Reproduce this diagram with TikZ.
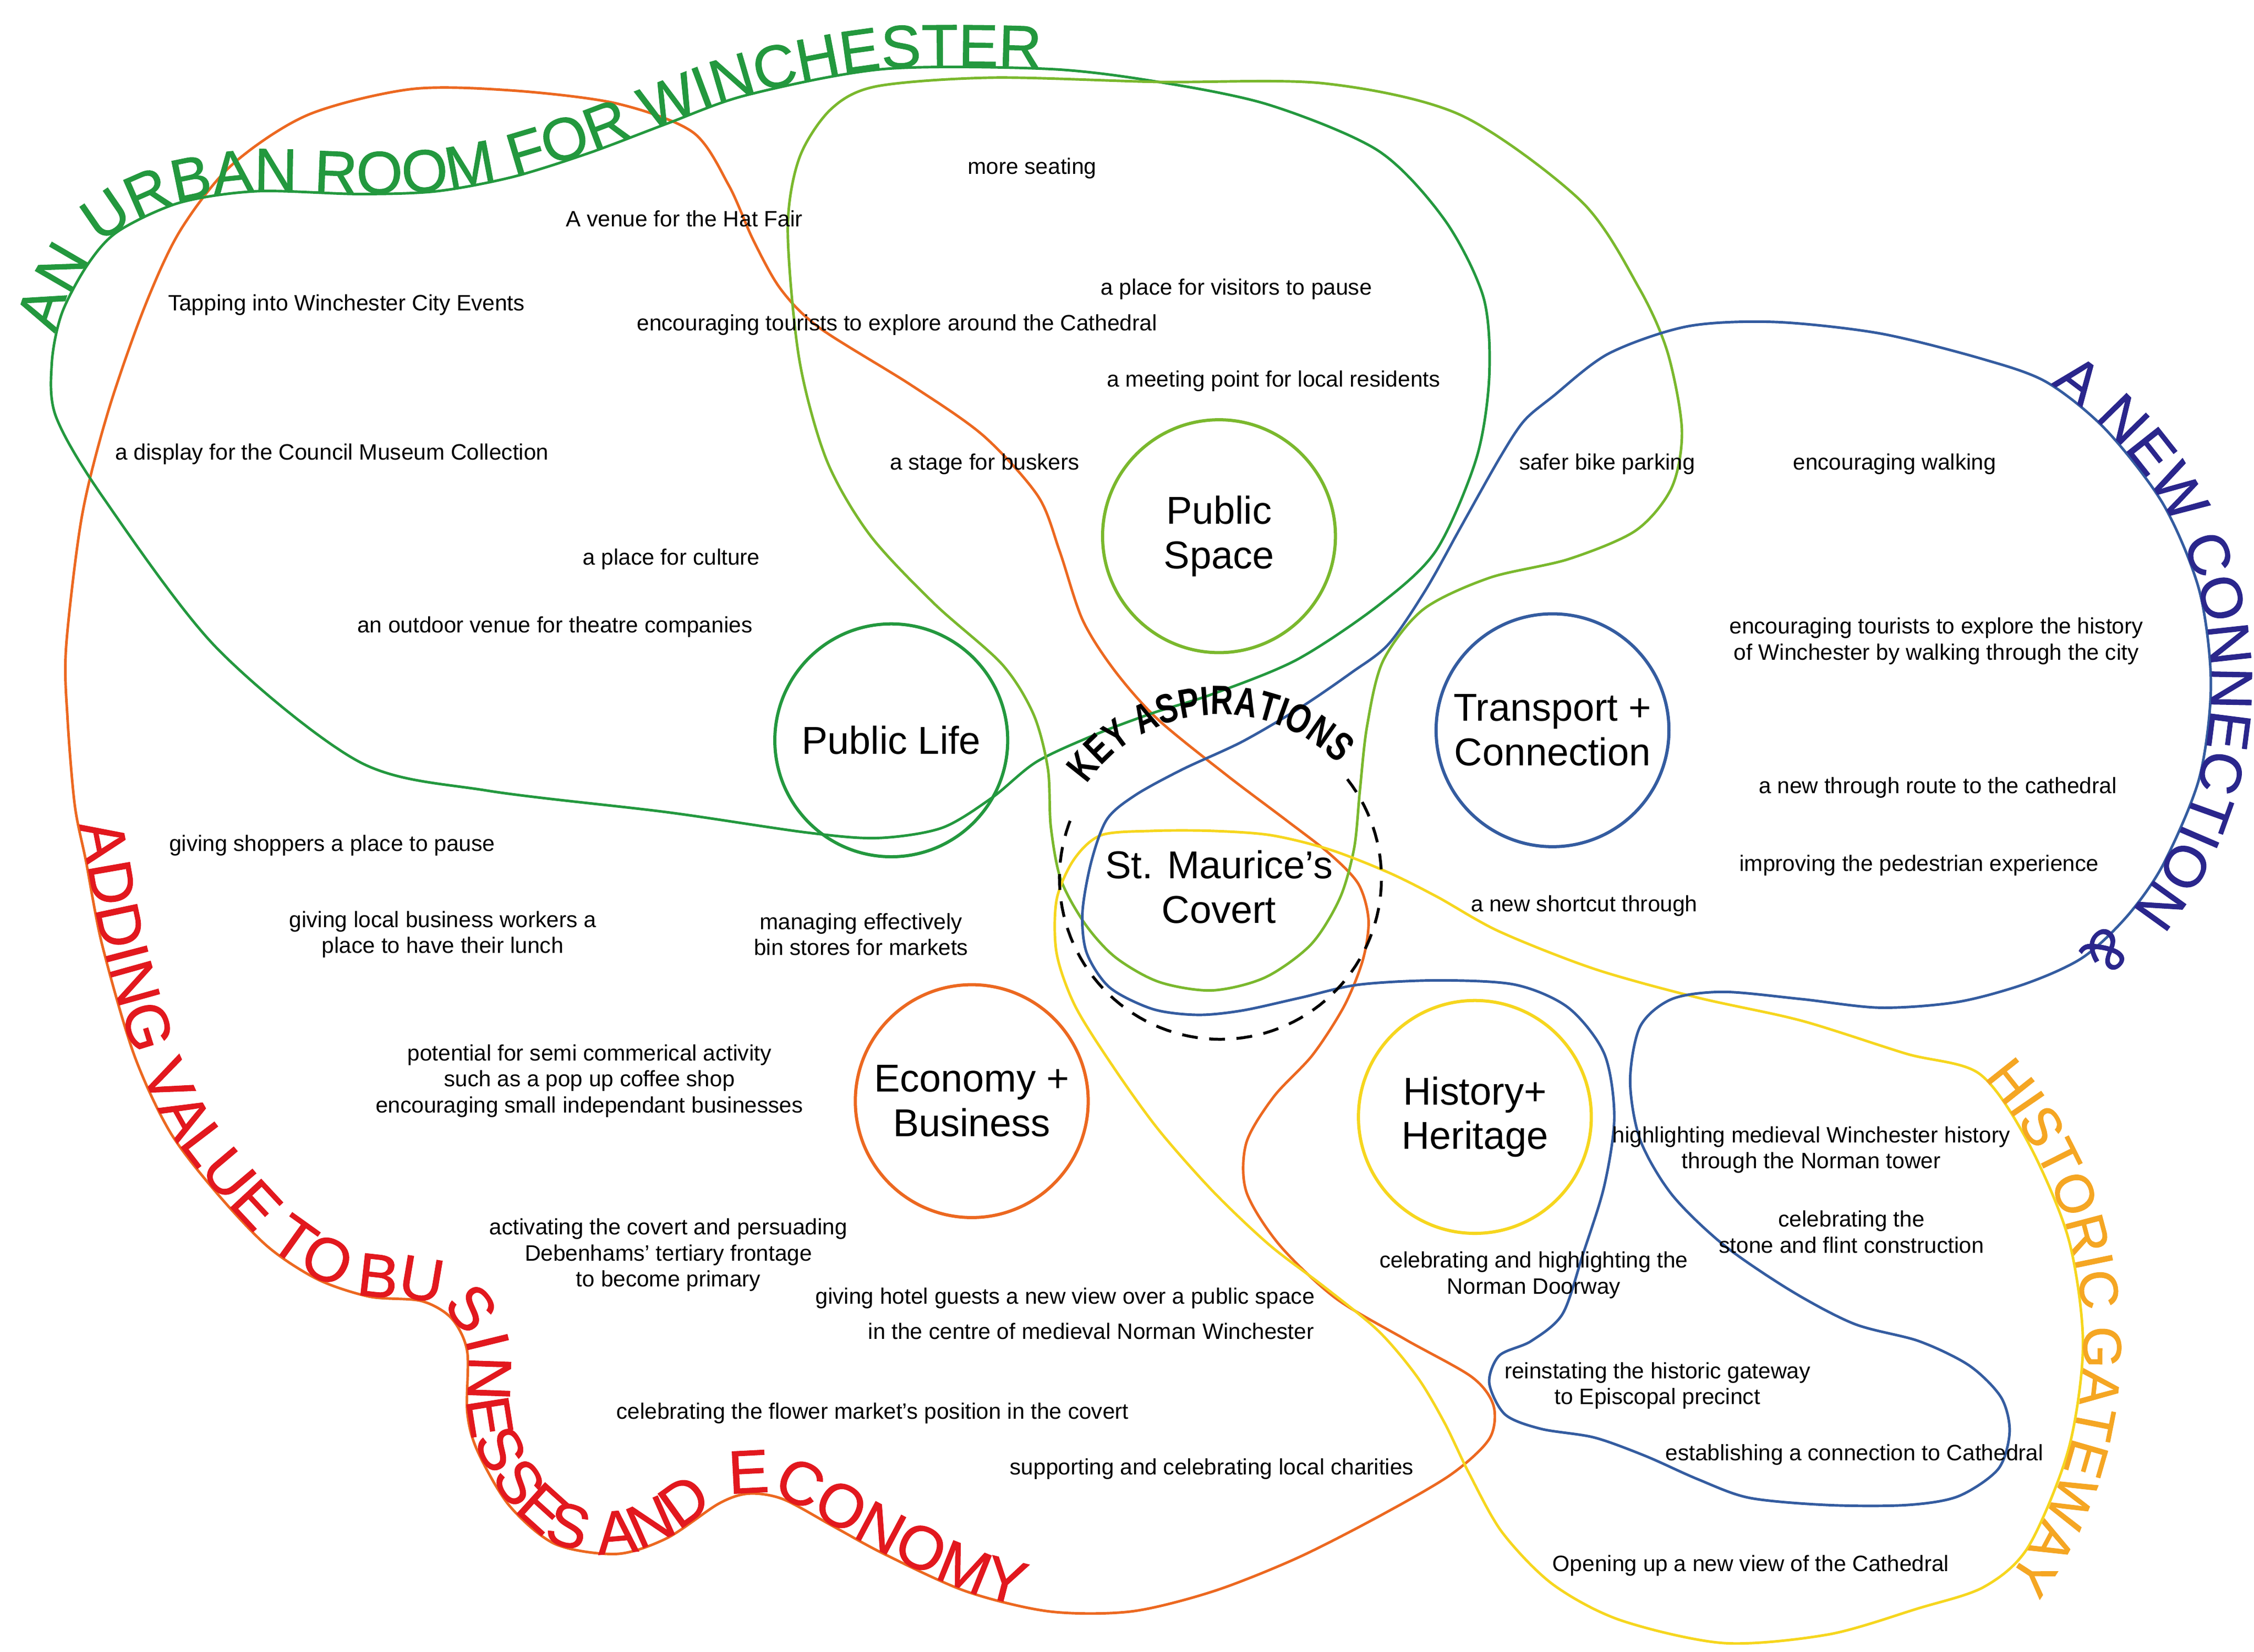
\documentclass[tikz,border=0pt]{standalone}
\usepackage{fontspec}
\setmainfont{Liberation Sans}
\newfontfamily\titlefont{Liberation Sans}[FakeBold=1]
\newfontfamily\keyfont{Liberation Sans}[FakeStretch=0.76]
\usetikzlibrary{decorations.text}
\definecolor{dkgreen}{RGB}{35,152,62}
\definecolor{ltgreen}{RGB}{122,184,45}
\definecolor{orangel}{RGB}{236,104,32}
\definecolor{redt}{RGB}{226,24,30}
\definecolor{bluel}{RGB}{52,92,160}
\definecolor{navyt}{RGB}{42,38,140}
\definecolor{yellowl}{RGB}{246,214,30}
\definecolor{oranget}{RGB}{245,166,35}
\newcommand\wsmall{\fontsize{15.5}{18}\selectfont}
\newcommand\wbig{\fontsize{27}{31}\selectfont}
\begin{document}
\begin{tikzpicture}[x=1pt,y=-1pt,
  blob/.style={line width=1.8pt},
  aspcircle/.style={circle, draw, line width=2.2pt, minimum size=162pt, inner sep=0pt, align=center, font=\wbig},
  note/.style={align=center, font=\wsmall, inner sep=0pt},
]
\fill[white] (0,0) rectangle (1568,1149);
\useasboundingbox (0,0) rectangle (1568,1149);

% ---------- blobs ----------
% orange: economy
\draw[blob, orangel] plot[smooth cycle] coordinates {(214,80) (286,62) (357,63) (429,72) (482,92) (507,129) (524,167) (543,201) (570,228) (634,268) (684,303) (722,345) (737,383) (753,431) (775,466) (805,500) (853,539) (894,570) (925,594) (945,615) (952,640) (948,668) (935,700) (913,734) (886,763) (867,795) (867,829) (890,866) (929,903) (978,932) (1024,958) (1039,978) (1036,1001) (1009,1026) (959,1055) (902,1084) (844,1107) (787,1121) (730,1121) (672,1107) (615,1081) (580,1062) (545,1043) (521,1039) (500,1046) (464,1070) (429,1081) (386,1074) (354,1047) (332,1009) (325,982) (325,940) (314,917) (293,905) (257,902) (221,890) (186,867) (150,829) (118,787) (93,733) (71,657) (60,600) (52,560) (47,500) (46,450) (57,359) (75,287) (100,215) (125,161) (161,115)};

% dark green: public life
\draw[blob, dkgreen] plot[smooth cycle] coordinates {(39,290) (36,253) (43,218) (61,184) (82,161) (125,141) (179,133) (250,135) (304,133) (357,123) (411,106) (464,86) (520,66) (615,48) (730,48) (806,57) (883,73) (959,105) (1005,153) (1032,207) (1036,262) (1027,319) (999,383) (959,421) (902,459) (843,483) (802,496) (762,511) (721,530) (690,555) (655,576) (610,583) (560,579) (464,565) (339,550) (250,530) (150,450) (71,345)};

% light green: public space
\draw[blob, ltgreen] plot[smooth cycle] coordinates {(556,250) (548,160) (556,110) (578,76) (610,60) (691,54) (806,57) (921,58) (1016,80) (1100,140) (1140,200) (1160,245) (1170,299) (1163,339) (1138,369) (1091,389) (1036,402) (990,424) (962,460) (951,505) (946,550) (942,590) (932,625) (912,657) (880,680) (843,689) (806,683) (776,666) (755,643) (738,612) (731,575) (729,535) (719,497) (697,462) (650,420) (605,372) (575,320)};

% yellow: history
\draw[blob, yellowl] plot[smooth cycle] coordinates {(766,581) (802,578) (843,578) (884,581) (925,591) (966,607) (1000,624) (1043,648) (1109,674) (1181,694) (1253,710) (1326,733) (1377,747) (1411,795) (1439,862) (1449,935) (1439,1008) (1411,1076) (1380,1104) (1334,1119) (1272,1137) (1199,1143) (1127,1127) (1080,1102) (1045,1066) (1022,1025) (1005,990) (986,958) (959,926) (921,895) (883,866) (844,829) (806,786) (775,743) (748,700) (735,663) (735,626) (747,598)};

% blue: transport
\draw[blob, bluel] plot[smooth cycle] coordinates {(1080,276) (1119,246) (1174,227) (1235,224) (1308,232) (1380,250) (1424,266) (1465,299) (1505,351) (1530,411) (1538,476) (1530,541) (1505,601) (1480,637) (1449,666) (1410,684) (1362,697) (1308,701) (1253,695) (1199,690) (1163,695) (1141,714) (1134,752) (1141,793) (1163,831) (1199,866) (1246,898) (1290,921) (1335,933) (1370,950) (1392,972) (1398,996) (1390,1022) (1362,1041) (1326,1047) (1272,1047) (1217,1042) (1181,1029) (1145,1013) (1109,1000) (1072,994) (1047,984) (1036,962) (1043,943) (1065,933) (1087,914) (1101,873) (1116,825) (1123,777) (1116,733) (1091,701) (1054,685) (1000,682) (945,685) (905,694) (864,703) (833,706) (802,702) (772,687) (756,663) (753,635) (759,600) (770,570) (790,553) (823,535) (864,516) (905,492) (940,468) (966,448) (992,410) (1016,367) (1043,319) (1060,293)};

% ---------- titles along the curves ----------
\path[decorate, decoration={text along path, text align={left indent=21pt}, raise=0.5pt, text color=dkgreen,
  text={|\titlefont\fontsize{41.5}{41.5}\selectfont|AN URBAN ROOM FOR WINCHESTER}}]
  plot[smooth] coordinates {(36,253) (43,218) (61,184) (82,161) (125,141) (179,133) (250,135) (304,133) (357,123) (411,106) (464,86) (520,66) (615,48) (730,48) (806,57) (883,73)};

\path[decorate, decoration={text along path, text align={left indent=14pt}, raise=0.5pt, text color=redt,
  text={|\titlefont\fontsize{42.5}{42.5}\selectfont|ADDING VALUE TO BUSINESSES AND ECONOMY}}]
  plot[smooth] coordinates {(52,560) (60,600) (71,657) (93,733) (118,787) (150,829) (186,867) (221,890) (257,902) (293,905) (314,917) (325,940) (325,982) (332,1009) (354,1047) (386,1074) (429,1081) (464,1070) (500,1046) (521,1039) (545,1043) (580,1062) (615,1081) (672,1107) (730,1121) (787,1121) (844,1107)};

\path[decorate, decoration={text along path, text align=center, raise=0.5pt, text color=navyt,
  text={|\titlefont\fontsize{40.5}{40.5}\selectfont|A NEW CONNECTION}}]
  plot[domain=-57.4:40, samples=80] ({1288+250*cos(\x)},{476+250*sin(\x)});
\node[text=navyt, font=\titlefont\fontsize{40.5}{40.5}\selectfont, rotate=-135, inner sep=0pt] (amp) at (1465,662) {\&};

\path[decorate, decoration={text along path, text align=center, raise=0.5pt, text color=oranget,
  text={|\titlefont\fontsize{37.5}{37.5}\selectfont|HISTORIC GATEWAY}}]
  plot[domain=-42:36.5, samples=80] ({1168+281*cos(\x)},{935+281*sin(\x)});

% ---------- key aspirations ----------
\draw[line width=2pt, dash pattern=on 11pt off 8pt] plot[domain=-38:205, samples=90] ({849+112*cos(\x)},{611+112*sin(\x)});
\path[decorate, decoration={text along path, text align=center, raise=1pt, text color=black,
  text={|\keyfont\bfseries\fontsize{28.5}{28.5}\selectfont|KEY ASPIRATIONS}}]
  plot[domain=-150:-39, samples=60] ({849+113*cos(\x)},{611+113*sin(\x)});

% ---------- aspiration circles ----------
\node[aspcircle, draw=ltgreen] (ps) at (848,373) {Public\\Space};
\node[aspcircle, draw=dkgreen] (pl) at (620,515) {Public Life};
\node[aspcircle, draw=bluel] (tc) at (1080,508) {Transport +\\Connection};
\node[aspcircle, draw=orangel] (eb) at (676,766) {Economy +\\Business};
\node[aspcircle, draw=yellowl] (hh) at (1026,777) {History+\\Heritage};
\node[font=\wbig, align=center, inner sep=0pt] (sm) at (848,617) {St. Maurice’s\\Covert};

% ---------- notes ----------
\node[note] (t1) at (718,117) {more seating};
\node[note] (t2) at (476,152) {A venue for the Hat Fair};
\node[note] (t3) at (860,201) {a place for visitors to pause};
\node[note] (t4) at (241,212) {Tapping into Winchester City Events};
\node[note] (t5) at (624,226) {encouraging tourists to explore around the Cathedral};
\node[note] (t6) at (886,265) {a meeting point for local residents};
\node[note] (t7) at (231,316) {a display for the Council Museum Collection};
\node[note] (t8) at (685,323) {a stage for buskers};
\node[note] (t9) at (1118,323) {safer bike parking};
\node[note] (t10) at (1318,323) {encouraging walking};
\node[note] (t11) at (467,389) {a place for culture};
\node[note] (t12) at (386,436) {an outdoor venue for theatre companies};
\node[note] (t13) at (1347,446) {encouraging tourists to explore the history\\of Winchester by walking through the city};
\node[note] (t14) at (1348,548) {a new through route to the cathedral};
\node[note] (t15) at (231,588) {giving shoppers a place to pause};
\node[note] (t16) at (1335,602) {improving the pedestrian experience};
\node[note] (t17) at (1102,630) {a new shortcut through};
\node[note] (t18) at (308,650) {giving local business workers a\\place to have their lunch};
\node[note] (t19) at (599,650) {managing effectively\\bin stores for markets};
\node[note] (t20) at (410,752) {potential for semi commerical activity\\such as a pop up coffee shop\\encouraging small independant businesses};
\node[note] (t21) at (1260,800) {highlighting medieval Winchester history\\through the Norman tower};
\node[note] (t22) at (1288,857) {celebrating the\\stone and flint construction};
\node[note] (t23) at (465,873) {activating the covert and persuading\\Debenhams’ tertiary frontage\\to become primary};
\node[note] (t24) at (1067,887) {celebrating and highlighting the\\Norman Doorway};
\node[note] (t25) at (741,903) {giving hotel guests a new view over a public space};
\node[note] (t26) at (759,926) {in the centre of medieval Norman Winchester};
\node[note] (t27) at (1153,964) {reinstating the historic gateway\\to Episcopal precinct};
\node[note] (t28) at (607,983) {celebrating the flower market’s position in the covert};
\node[note] (t29) at (1290,1012) {establishing a connection to Cathedral};
\node[note] (t30) at (843,1022) {supporting and celebrating local charities};
\node[note] (t31) at (1218,1089) {Opening up a new view of the Cathedral};
\end{tikzpicture}
\end{document}
